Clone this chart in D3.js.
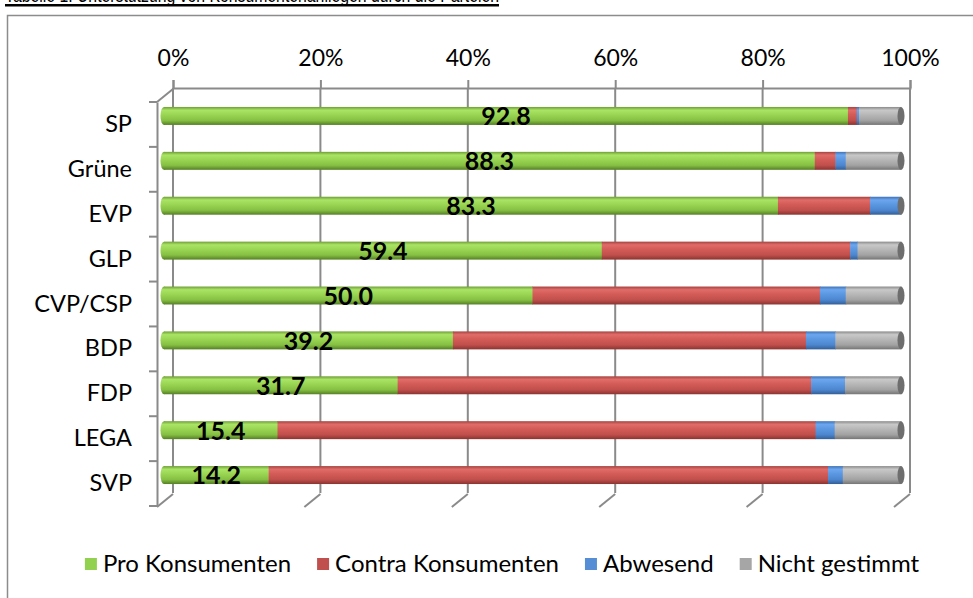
<!doctype html>
<html lang="de">
<head>
	<meta charset="UTF-8">
	<title>Unterstützung von Konsumentenanliegen</title>
	<style>
		body { margin: 0; background: #fff; }
		svg text { font-family: Lato, "Open Sans", sans-serif; fill: #000; }
		.tick line { stroke: #8a8a8a; stroke-width: 2; }
		.domain { stroke: #8a8a8a; stroke-width: 2; }
	</style>
</head>
<body>
	<script src="https://cdn.jsdelivr.net/npm/d3@7"></script>
	<script>
		// data (percent per party)
		var parties = ['SP', 'Grüne', 'EVP', 'GLP', 'CVP/CSP', 'BDP', 'FDP', 'LEGA', 'SVP'];
		var pro = [92.8, 88.3, 83.3, 59.4, 50.0, 39.2, 31.7, 15.4, 14.2];
		var contra = [1.2, 2.8, 12.5, 33.7, 39.0, 47.9, 56.1, 73.0, 75.9];
		var abwesend = [0.3, 1.4, 4.2, 1.0, 3.5, 4.0, 4.6, 2.6, 2.0];
		var nichtGestimmt = [5.7, 7.5, 0, 5.9, 7.5, 8.9, 7.6, 9.0, 7.9];
		var seriesNames = ['Pro Konsumenten', 'Contra Konsumenten', 'Abwesend', 'Nicht gestimmt'];
		var tickValues = [0, 20, 40, 60, 80, 100];

		var w = 973,
			h = 598,
			depthX = 16,
			depthY = -13,
			front = {left: 157, top: 102, bottom: 506};

		var colors = {
			'Pro Konsumenten': ['#6f9e36', '#aae466', '#9bd654', '#86c043', '#557f25'],
			'Contra Konsumenten': ['#a54441', '#e06c68', '#d45c58', '#c04f4b', '#8a3431'],
			'Abwesend': ['#3f72b4', '#6ca6ee', '#5c98e2', '#4c86cf', '#345e96'],
			'Nicht gestimmt': ['#8a8a8a', '#c8c8c8', '#b8b8b8', '#a2a2a2', '#757575']
		};
		var legendColors = ['#92d050', '#c0504d', '#558ed5', '#a6a6a6'];
		var capColor = '#6e6e6e';

		var svg = d3.select('body')
			.append('svg')
			.attr('width', w)
			.attr('height', h);

		var defs = svg.append('defs');
		seriesNames.forEach(function(name, i) {
			var g = defs.append('linearGradient')
				.attr('id', 'grad' + i)
				.attr('x1', 0).attr('y1', 0).attr('x2', 0).attr('y2', 1);
			[0, 0.18, 0.42, 0.75, 1].forEach(function(o, j) {
				g.append('stop').attr('offset', o).attr('stop-color', colors[name][j]);
			});
		});

		// title (its top is cut off by the page edge, as in the original)
		svg.append('text')
			.attr('x', 5)
			.attr('y', 2)
			.attr('textLength', 494)
			.attr('lengthAdjust', 'spacingAndGlyphs')
			.style('font-size', '21px')
			.style('font-family', '"Liberation Sans", Arial, sans-serif')
			.text('Tabelle 1: Unterstützung von Konsumentenanliegen durch die Parteien');
		svg.append('rect')
			.attr('x', 5).attr('y', 4)
			.attr('width', 494).attr('height', 2.5)
			.attr('fill', '#000');

		// chart frame
		svg.append('rect')
			.attr('x', 7.5).attr('y', 15.5)
			.attr('width', 990).attr('height', 600)
			.attr('fill', 'none')
			.attr('stroke', '#8c8c8c')
			.attr('stroke-width', 1.5);

		var xScale = d3.scaleLinear()
			.domain([0, 100])
			.range([front.left, front.left + 737]);

		var yScale = d3.scaleBand()
			.domain(parties)
			.range([front.top, front.bottom]);

		var backTop = 88,
			backBottom = front.bottom + depthY;

		// back wall gridlines
		svg.append('g')
			.selectAll('line')
			.data(tickValues)
			.enter()
			.append('line')
			.attr('x1', function(d) { return xScale(d) + depthX; })
			.attr('x2', function(d) { return xScale(d) + depthX; })
			.attr('y1', backTop)
			.attr('y2', backBottom)
			.attr('stroke', '#8a8a8a')
			.attr('stroke-width', 2);

		// floor gridlines (front to back)
		svg.append('g')
			.selectAll('line')
			.data(tickValues)
			.enter()
			.append('line')
			.attr('x1', function(d) { return xScale(d); })
			.attr('x2', function(d) { return xScale(d) + depthX; })
			.attr('y1', front.bottom + 1)
			.attr('y2', backBottom + 1)
			.attr('stroke', '#8a8a8a')
			.attr('stroke-width', 2);

		// value axis on top of the back wall
		var xAxis = d3.axisTop(xScale)
			.tickValues(tickValues)
			.tickFormat(function(d) { return d + '%'; })
			.tickSize(8)
			.tickPadding(14);

		svg.append('g')
			.attr('transform', 'translate(' + depthX + ',' + backTop + ')')
			.call(xAxis)
			.call(function(g) {
				g.selectAll('text').style('font-size', '23px');
			});

		// left wall / category axis
		var yAxis = d3.axisLeft(yScale)
			.tickSize(0)
			.tickPadding(25);

		var yAxisG = svg.append('g')
			.attr('transform', 'translate(' + front.left + ',0)')
			.call(yAxis);
		yAxisG.selectAll('text').style('font-size', '23.5px');

		var boundaries = parties.map(function(p) { return yScale(p); }).concat([front.bottom]);
		yAxisG.selectAll('.sep')
			.data(boundaries)
			.enter()
			.append('line')
			.attr('class', 'sep')
			.attr('x1', -8).attr('x2', 0)
			.attr('y1', function(d) { return d; })
			.attr('y2', function(d) { return d; })
			.attr('stroke', '#8a8a8a')
			.attr('stroke-width', 2);

		svg.append('line')
			.attr('x1', front.left).attr('x2', front.left + depthX)
			.attr('y1', front.top).attr('y2', front.top + depthY)
			.attr('stroke', '#8a8a8a')
			.attr('stroke-width', 2);

		// stacked cylinders
		var stackData = parties.map(function(p, i) {
			return {party: p, values: [pro[i], contra[i], abwesend[i], nichtGestimmt[i]]};
		});

		var barH = yScale.bandwidth() * 0.4,
			barDx = 7,
			barDy = -8.5,
			capRx = 3.5;

		var bars = svg.append('g')
			.attr('transform', 'translate(' + barDx + ',' + barDy + ')');

		stackData.forEach(function(row) {
			var cy = yScale(row.party) + yScale.bandwidth() / 2,
				start = 0,
				segs = [];
			row.values.forEach(function(v, k) {
				if (v > 0) {
					segs.push({k: k, x0: start, x1: start + v});
				}
				start += v;
			});

			var g = bars.append('g');

			// rounded start
			g.append('ellipse')
				.attr('cx', xScale(0))
				.attr('cy', cy)
				.attr('rx', capRx)
				.attr('ry', barH / 2)
				.attr('fill', 'url(#grad0)');

			g.selectAll('rect')
				.data(segs)
				.enter()
				.append('rect')
				.attr('x', function(d) { return xScale(d.x0); })
				.attr('width', function(d) { return xScale(d.x1) - xScale(d.x0) + 0.5; })
				.attr('y', cy - barH / 2)
				.attr('height', barH)
				.attr('fill', function(d) { return 'url(#grad' + d.k + ')'; });

			var last = segs[segs.length - 1];
			g.append('ellipse')
				.attr('cx', xScale(last.x1))
				.attr('cy', cy)
				.attr('rx', capRx)
				.attr('ry', barH / 2)
				.attr('fill', capColor);

			// value label on the green part
			g.append('text')
				.attr('x', xScale(row.values[0] / 2))
				.attr('y', cy + 3)
				.attr('text-anchor', 'middle')
				.attr('dominant-baseline', 'middle')
				.style('font-size', '25px')
				.style('font-weight', 'bold')
				.text(row.values[0].toFixed(1));
		});

		// legend
		var legend = svg.append('g');
		var items = legend.selectAll('g')
			.data(seriesNames)
			.enter()
			.append('g');
		items.append('rect')
			.attr('width', 12).attr('height', 12)
			.attr('y', -6)
			.attr('fill', function(d, i) { return legendColors[i]; });
		items.append('text')
			.attr('x', 18)
			.attr('dy', '0.35em')
			.style('font-size', '24px')
			.text(function(d) { return d; });

		var gap = 26,
			pos = 0;
		items.each(function() {
			var wItem = 18 + d3.select(this).select('text').node().getComputedTextLength();
			d3.select(this).attr('transform', 'translate(' + pos + ',0)');
			pos += wItem + gap;
		});
		var total = pos - gap;
		legend.attr('transform', 'translate(' + (502 - total / 2) + ',564)');
	</script>
</body>
</html>
